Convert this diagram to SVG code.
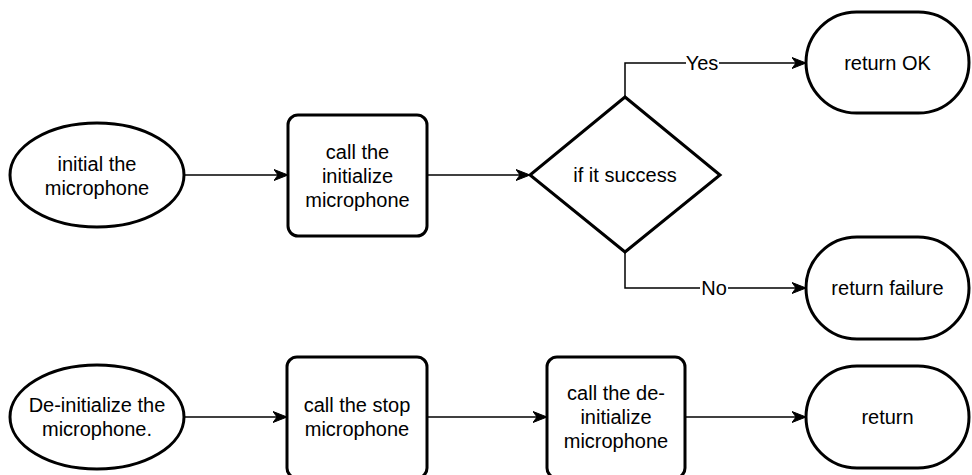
<svg xmlns="http://www.w3.org/2000/svg" width="972" height="475" viewBox="0 0 972 475">
  <style>
    .shape { fill: #ffffff; stroke: #000000; stroke-width: 3; }
    .edge { fill: none; stroke: #000000; stroke-width: 1.5; }
    .label { font-family: "Liberation Sans", Arial, Helvetica, sans-serif; font-size: 20px; fill: #000000; text-anchor: middle; }
    .edge-label { font-family: "Liberation Sans", Arial, Helvetica, sans-serif; font-size: 20px; fill: #000000; text-anchor: middle; }
  </style>
  <defs>
    <marker id="arrow" viewBox="0 0 14 12" refX="13" refY="6" markerWidth="14" markerHeight="12" markerUnits="userSpaceOnUse" orient="auto">
      <path d="M0,0.5 L14,6 L0,11.5 L4,6 Z" fill="#000000" stroke="#000000" stroke-width="1" stroke-linejoin="miter"/>
    </marker>
  </defs>
  <rect width="972" height="475" fill="#ffffff"/>

  <!-- connectors -->
  <g id="edges">
    <path class="edge" d="M184,175 L287,175" marker-end="url(#arrow)"/>
    <path class="edge" d="M427,175 L529,175" marker-end="url(#arrow)"/>
    <path class="edge" d="M625,97 L625,63 L805,63" marker-end="url(#arrow)"/>
    <rect x="686" y="52" width="33" height="22" fill="#ffffff"/>
    <text class="edge-label" x="702" y="70">Yes</text>
    <path class="edge" d="M625,252 L625,288 L805,288" marker-end="url(#arrow)"/>
    <rect x="700" y="277" width="28" height="22" fill="#ffffff"/>
    <text class="edge-label" x="714" y="295">No</text>
    <path class="edge" d="M184,417 L286,417" marker-end="url(#arrow)"/>
    <path class="edge" d="M427,417 L546,417" marker-end="url(#arrow)"/>
    <path class="edge" d="M685,417 L805,417" marker-end="url(#arrow)"/>
  </g>

  <!-- top row -->
  <g id="init-start">
    <ellipse class="shape" cx="97" cy="175" rx="87" ry="52"/>
    <text class="label" x="97" y="171">initial the</text>
    <text class="label" x="97" y="195">microphone</text>
  </g>
  <g id="call-init">
    <rect class="shape" x="288" y="115" width="139" height="121" rx="10" ry="10"/>
    <text class="label" x="357.5" y="159">call the</text>
    <text class="label" x="357.5" y="183">initialize</text>
    <text class="label" x="357.5" y="207">microphone</text>
  </g>
  <g id="check-success">
    <polygon class="shape" points="625,97 720,175 625,252 530,175"/>
    <text class="label" x="625" y="182">if it success</text>
  </g>
  <g id="return-ok">
    <rect class="shape" x="806" y="12" width="163" height="101" rx="50.5" ry="50.5"/>
    <text class="label" x="887.5" y="70">return OK</text>
  </g>
  <g id="return-failure">
    <rect class="shape" x="806" y="237" width="163" height="102" rx="51" ry="51"/>
    <text class="label" x="887.5" y="295">return failure</text>
  </g>

  <!-- bottom row -->
  <g id="deinit-start">
    <ellipse class="shape" cx="97" cy="417" rx="87" ry="52"/>
    <text class="label" x="97" y="412">De-initialize the</text>
    <text class="label" x="97" y="436">microphone.</text>
  </g>
  <g id="call-stop">
    <rect class="shape" x="287" y="357" width="140" height="121" rx="10" ry="10"/>
    <text class="label" x="357" y="412">call the stop</text>
    <text class="label" x="357" y="436">microphone</text>
  </g>
  <g id="call-deinit">
    <rect class="shape" x="547" y="357" width="138" height="121" rx="10" ry="10"/>
    <text class="label" x="616" y="400">call the de-</text>
    <text class="label" x="616" y="424">initialize</text>
    <text class="label" x="616" y="448">microphone</text>
  </g>
  <g id="return-end">
    <rect class="shape" x="806" y="366" width="163" height="102" rx="51" ry="51"/>
    <text class="label" x="887.5" y="424">return</text>
  </g>
</svg>
